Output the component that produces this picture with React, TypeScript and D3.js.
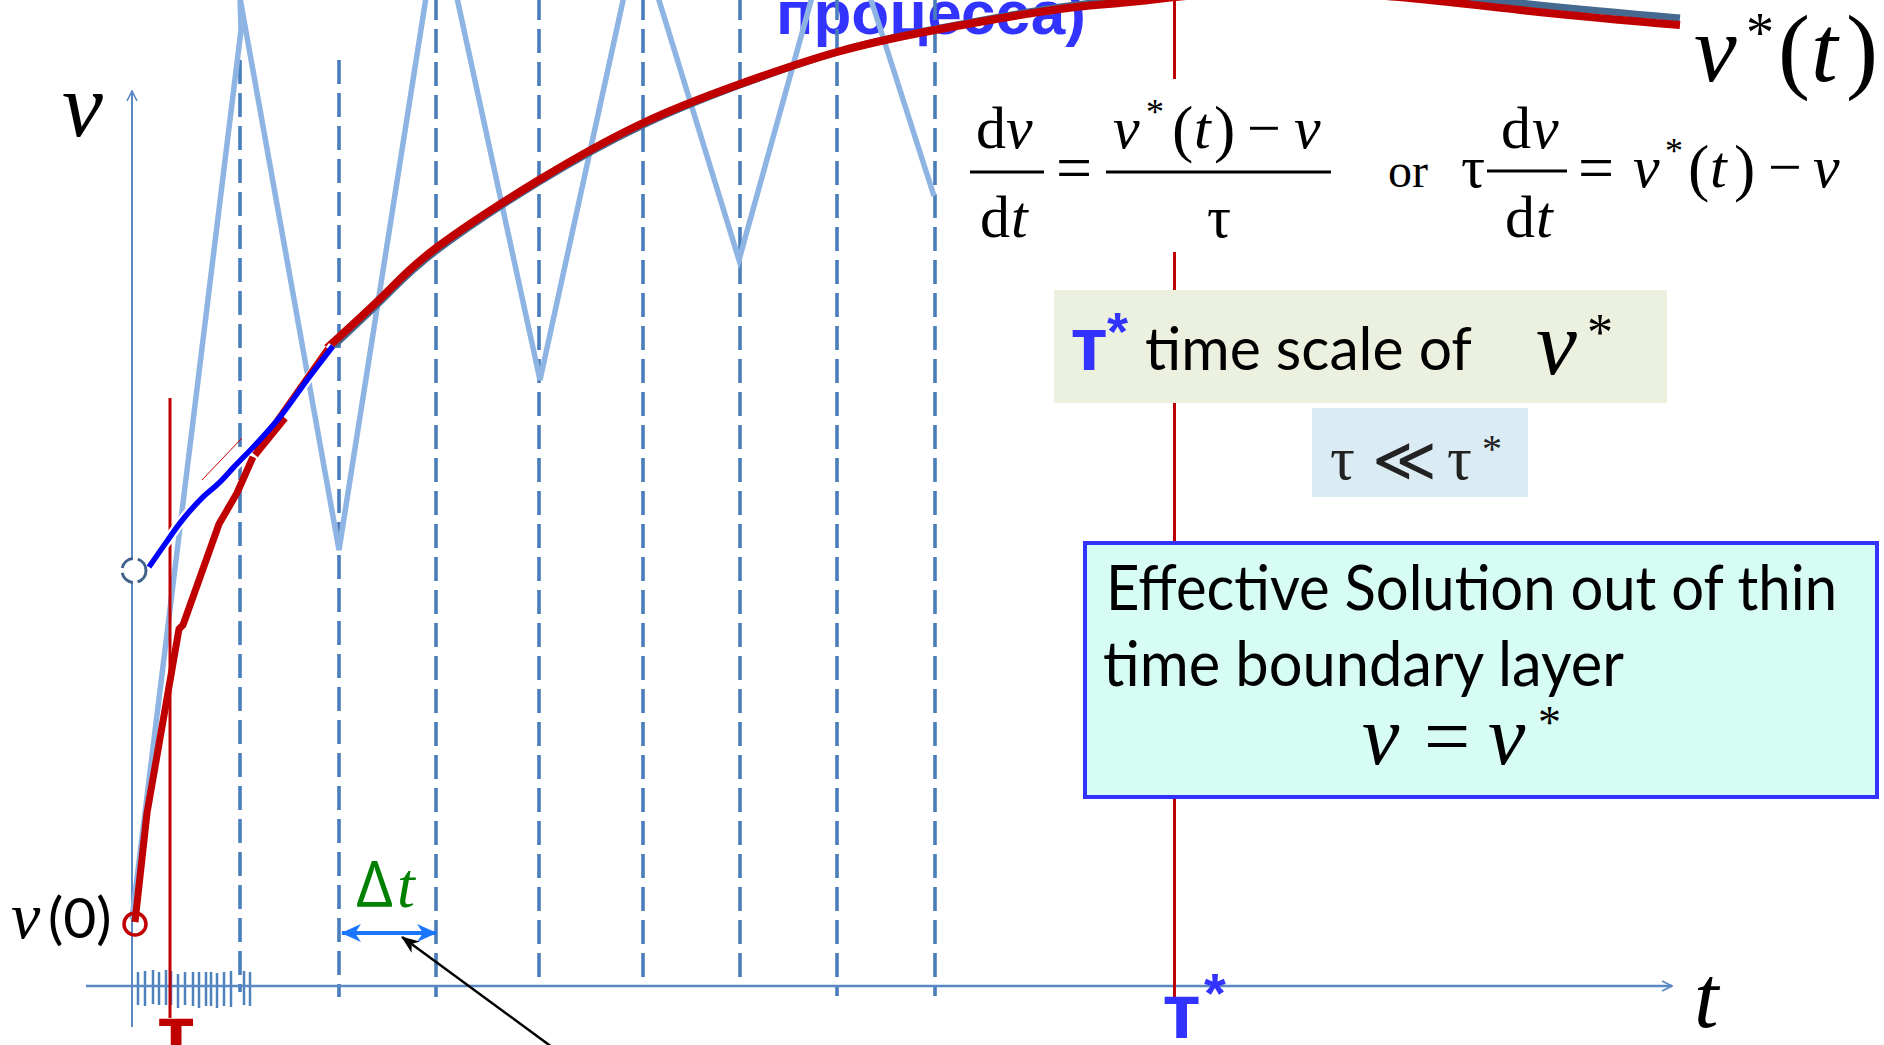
import React from "react";
import * as d3 from "d3";

const WIDTH = 1884;
const HEIGHT = 1045;

// Coarse time grid (steps of Δt), t units
const gridT = [10.8, 20.7, 30.4, 40.7, 51.1, 60.8, 70.5, 80.3];
const gridTop = [92.6, 92.6, 99, 99, 99, 99, 99, 99];
const gridBottom = [-0.6, -1.1, -1.1, 0.5, 0.5, 0.4, -1.0, -1.0];

// Fine time steps inside the boundary layer
const fineT = [0.6, 1.3, 2.1, 2.7, 3.4, 3.9, 4.6, 5.3, 6.1, 6.7, 7.4, 7.9, 8.5, 9.2, 9.9, 11.2, 11.8];
const fineTop = [1.4, 1.5, 1.6, 1.4, 1.6, 1.5, 1.2, 1.4, 1.4, 1.4, 1.4, 1.4, 1.3, 1.4, 1.5, 1.5, 1.4];
const fineBottom = [-1.9, -2.0, -1.8, -1.9, -1.9, -1.9, -2.2, -1.9, -2.0, -2.2, -2.0, -2.0, -2.2, -2.0, -2.1, -1.9, -2.0];

// Explicit scheme with a large step: oscillating iterates
const zigT = [0, 10.9, 10.8, 20.7, 30.7, 40.8, 50.6, 60.7, 70.7, 80.2];
const zigV = [6.7, 95.6, 98.8, 43.6, 107.1, 60.6, 105.4, 72.6, 108.6, 79.0];

// Slow manifold v*(t)
const slowT = [19.5, 25.3, 30.4, 40.7, 51.1, 60.8, 70.5, 80.3, 92.8, 100.8, 116.8, 138.8, 154.8];
const slowV = [63.8, 69.2, 73.8, 80.6, 86.3, 90.2, 93.4, 95.6, 97.7, 98.5, 99.5, 97.6, 96.1];
const exactV = [63.4, 68.9, 73.5, 80.4, 86.1, 90.1, 93.4, 95.7, 97.9, 98.8, 100.0, 98.3, 96.8];

// Fine-step solution through the layer
const layerAT = [0.3, 1.5, 3.8, 4.7, 5.1, 8.7, 10.5, 12.1];
const layerAV = [6.4, 17.3, 30.5, 35.7, 36.1, 46.2, 49.3, 52.9];
const layerCT = [12.3, 15.3];
const layerCV = [53.1, 56.8];
const linkT = [12.3, 19.5];
const linkV = [53.6, 63.8];
const hairT = [7.0, 11.0];
const hairV = [50.6, 54.8];

// Trajectory from a perturbed state
const driftT = [1.7, 3.3, 4.8, 7.1, 8.8, 10.1, 12.5, 14.8, 17.5, 20.1];
const driftV = [41.9, 44.2, 46.3, 48.9, 50.4, 51.8, 54.3, 56.9, 60.6, 64.0];

const v0 = 6.2;
const vPert = 41.55;
const tau = 3.8;
const tauStar = 104.25;

const RED = "#c00000";
const BLUE_TXT = "#3333ff";
const SERIF = "'Liberation Serif', 'DejaVu Serif', serif";
const SANS = "Lato, 'Open Sans', sans-serif";
const BOLD_SANS = "'Liberation Sans', Arial, sans-serif";

const zip = (a: number[], b: number[]): [number, number][] => a.map((t, i) => [t, b[i]]);

type Piece = { s: string; x: number; y: number; size?: number; it?: boolean; font?: string; fill?: string; anchor?: string; weight?: string };

function Pieces({ items }: { items: Piece[] }) {
  return (
    <g>
      {items.map((p, i) => (
        <text
          key={i}
          x={p.x}
          y={p.y}
          fontSize={p.size ?? 60}
          fontStyle={p.it ? "italic" : "normal"}
          fontFamily={p.font ?? SERIF}
          fill={p.fill ?? "#000"}
          textAnchor={(p.anchor as any) ?? "start"}
          fontWeight={p.weight ?? "normal"}
        >
          {p.s}
        </text>
      ))}
    </g>
  );
}

export default function App() {
  const x = d3.scaleLinear().domain([0, 154]).range([132, 1672]);
  const y = d3.scaleLinear().domain([0, 98.6]).range([986, 0]);
  const straight = d3.line<[number, number]>().x((d) => x(d[0])).y((d) => y(d[1]));
  const smooth = d3
    .line<[number, number]>()
    .x((d) => x(d[0]))
    .y((d) => y(d[1]))
    .curve(d3.curveMonotoneX);
  const natural = d3
    .line<[number, number]>()
    .x((d) => x(d[0]))
    .y((d) => y(d[1]))
    .curve(d3.curveNatural);

  const axisColor = "#5a88c4";

  return (
    <div style={{ position: "fixed", left: 0, top: 0, width: WIDTH, height: HEIGHT, overflow: "hidden", background: "#fff" }}>
      <svg width={WIDTH} height={HEIGHT} viewBox={`0 0 ${WIDTH} ${HEIGHT}`} style={{ display: "block" }}>
        <defs>
          <marker id="axisHead" viewBox="0 0 12 12" refX="11" refY="6" markerWidth="12" markerHeight="12" markerUnits="userSpaceOnUse" orient="auto">
            <path d="M1,1 L11,6 L1,11" fill="none" stroke={axisColor} strokeWidth="1.6" />
          </marker>
          <marker id="blueHead" viewBox="0 0 20 18" refX="19" refY="9" markerWidth="20" markerHeight="18" markerUnits="userSpaceOnUse" orient="auto-start-reverse">
            <path d="M0,0 L20,9 L0,18 L6,9 Z" fill="#1a75ff" />
          </marker>
          <marker id="blackHead" viewBox="0 0 18 14" refX="17" refY="7" markerWidth="18" markerHeight="14" markerUnits="userSpaceOnUse" orient="auto">
            <path d="M0,0 L18,7 L0,14 L5,7 Z" fill="#000" />
          </marker>
        </defs>

        <rect x={0} y={0} width={WIDTH} height={HEIGHT} fill="#fff" />

        {/* caption fragment at the top */}
        <text x={776} y={34} fontSize={62} fontWeight="bold" fontFamily={BOLD_SANS} fill={BLUE_TXT}>
          процесса)
        </text>

        {/* coarse grid of time steps */}
        {gridT.map((t, i) => (
          <line key={`g${i}`} x1={x(t)} x2={x(t)} y1={y(gridTop[i])} y2={y(gridBottom[i])} stroke="#4a7ebb" strokeWidth={3.6} strokeDasharray="24 9" />
        ))}

        {/* fine time steps */}
        {fineT.map((t, i) => (
          <line key={`f${i}`} x1={x(t)} x2={x(t)} y1={y(fineTop[i])} y2={y(fineBottom[i])} stroke="#4f81bd" strokeWidth={2.5} />
        ))}

        {/* axes */}
        <line x1={x(0)} x2={x(0)} y1={y(-4.1)} y2={y(89.5)} stroke={axisColor} strokeWidth={2} markerEnd="url(#axisHead)" />
        <line x1={x(-4.6)} x2={x(154)} y1={y(0)} y2={y(0)} stroke={axisColor} strokeWidth={2.5} markerEnd="url(#axisHead)" />

        {/* oscillating coarse-step iterates */}
        <path d={straight(zip(zigT, zigV)) ?? ""} fill="none" stroke="#8eb4e3" strokeWidth={5.5} strokeLinejoin="miter" />

        {/* τ marker line */}
        <line x1={x(tau)} x2={x(tau)} y1={y(58.8)} y2={y(-3.2)} stroke={RED} strokeWidth={3} />

        {/* τ* marker line */}
        <line x1={x(tauStar)} x2={x(tauStar)} y1={y(99)} y2={y(-1.4)} stroke={RED} strokeWidth={3} />

        {/* slow manifold v*(t) */}
        <path d={natural(zip(slowT, exactV)) ?? ""} fill="none" stroke="#46698f" strokeWidth={7} />
        <path d={natural(zip(slowT, slowV)) ?? ""} fill="none" stroke={RED} strokeWidth={8} />

        {/* halo under the perturbed trajectory */}
        <path d={smooth(zip(driftT, driftV)) ?? ""} fill="none" stroke="#fff" strokeWidth={10} />

        {/* fine-step solution through the boundary layer */}
        <path d={straight(zip(layerAT, layerAV)) ?? ""} fill="none" stroke={RED} strokeWidth={7} strokeLinejoin="round" />
        <path d={straight(zip(layerCT, layerCV)) ?? ""} fill="none" stroke={RED} strokeWidth={7} />
        <path d={straight(zip(linkT, linkV)) ?? ""} fill="none" stroke={RED} strokeWidth={4} />
        <path d={straight(zip(hairT, hairV)) ?? ""} fill="none" stroke={RED} strokeWidth={1} />

        {/* perturbed trajectory */}
        <path d={smooth(zip(driftT, driftV)) ?? ""} fill="none" stroke="#0000ff" strokeWidth={5.5} />

        {/* start points */}
        <circle cx={x(0.2)} cy={y(vPert)} r={12} fill="#fff" stroke="#3f6188" strokeWidth={3} strokeDasharray="15 5" />
        <circle cx={x(0.3)} cy={y(v0)} r={11} fill="none" stroke={RED} strokeWidth={3.5} />

        {/* axis labels */}
        <text x={62} y={136} fontSize={92} fontStyle="italic" fontFamily={SERIF}>v</text>
        <text x={1694} y={1027} fontSize={88} fontStyle="italic" fontFamily={SERIF}>t</text>

        {/* v(0) */}
        <text x={11} y={938} fontSize={66} fontStyle="italic" fontFamily={SERIF}>v</text>
        <text x={48} y={938} fontSize={57} fontFamily={SANS}>(0)</text>

        {/* Δt */}
        <text x={356} y={907} fontSize={64} fontFamily="'Open Sans', 'DejaVu Sans', sans-serif" fill="#008000">Δ</text>
        <text x={397} y={907} fontSize={64} fontStyle="italic" fontFamily={SERIF} fill="#008000">t</text>
        <line x1={x(gridT[1]) + 3} x2={x(gridT[2])} y1={y(5.3)} y2={y(5.3)} stroke="#1a75ff" strokeWidth={4} markerStart="url(#blueHead)" markerEnd="url(#blueHead)" />

        {/* pointer arrow */}
        <line x1={x(42.4)} y1={y(-6.4)} x2={x(27.0)} y2={y(4.9)} stroke="#000" strokeWidth={2.5} markerEnd="url(#blackHead)" />

        {/* τ and τ* labels on the time axis */}
        <text x={x(tau) + 6} y={1060} fontSize={78} fontWeight="bold" fontFamily={BOLD_SANS} fill={RED} textAnchor="middle">т</text>
        <text x={x(tauStar) + 7} y={1038} fontSize={78} fontWeight="bold" fontFamily={BOLD_SANS} fill={BLUE_TXT} textAnchor="middle">т</text>
        <text x={1204} y={1012} fontSize={56} fontWeight="bold" fontFamily={BOLD_SANS} fill={BLUE_TXT}>*</text>

        {/* v*(t) label */}
        <Pieces
          items={[
            { s: "v", x: 1694, y: 81, size: 96, it: true },
            { s: "*", x: 1746, y: 52, size: 56 },
            { s: "(", x: 1778, y: 81, size: 96 },
            { s: "t", x: 1811, y: 81, size: 96, it: true },
            { s: ")", x: 1846, y: 81, size: 96 },
          ]}
        />

        {/* relaxation equation */}
        <rect x={955} y={79} width={390} height={173} fill="#fff" />
        <Pieces
          items={[
            { s: "d", x: 976, y: 148 },
            { s: "v", x: 1006, y: 148, it: true },
            { s: "d", x: 980, y: 237 },
            { s: "t", x: 1011, y: 237, it: true },
            { s: "=", x: 1056, y: 189, size: 64 },
            { s: "v", x: 1113, y: 148, it: true },
            { s: "*", x: 1146, y: 124, size: 36 },
            { s: "(", x: 1172, y: 150, size: 64 },
            { s: "t", x: 1194, y: 148, it: true },
            { s: ")", x: 1214, y: 150, size: 64 },
            { s: "−", x: 1247, y: 148 },
            { s: "v", x: 1294, y: 148, it: true },
            { s: "τ", x: 1207, y: 237 },
            { s: "or", x: 1388, y: 187, size: 48 },
            { s: "τ", x: 1461, y: 187 },
            { s: "d", x: 1501, y: 148 },
            { s: "v", x: 1532, y: 148, it: true },
            { s: "d", x: 1505, y: 237 },
            { s: "t", x: 1536, y: 237, it: true },
            { s: "=", x: 1578, y: 189, size: 64 },
            { s: "v", x: 1633, y: 187, it: true },
            { s: "*", x: 1665, y: 163, size: 36 },
            { s: "(", x: 1688, y: 189, size: 64 },
            { s: "t", x: 1710, y: 187, it: true },
            { s: ")", x: 1734, y: 189, size: 64 },
            { s: "−", x: 1768, y: 187 },
            { s: "v", x: 1813, y: 187, it: true },
          ]}
        />
        <line x1={970} x2={1044} y1={172} y2={172} stroke="#000" strokeWidth={3} />
        <line x1={1106} x2={1331} y1={172} y2={172} stroke="#000" strokeWidth={3} />
        <line x1={1487} x2={1567} y1={171} y2={171} stroke="#000" strokeWidth={3} />

        {/* τ* note */}
        <rect x={1054} y={290} width={613} height={113} fill="#ebf1de" />
        <text x={1089} y={370} fontSize={76} fontWeight="bold" fontFamily={BOLD_SANS} fill={BLUE_TXT} textAnchor="middle">т</text>
        <text x={1107} y={350} fontSize={54} fontWeight="bold" fontFamily={BOLD_SANS} fill={BLUE_TXT}>*</text>
        <text x={1145} y={370} fontSize={60} fontFamily={SANS} textLength={327} lengthAdjust="spacingAndGlyphs">time scale of</text>
        <text x={1536} y={374} fontSize={92} fontStyle="italic" fontFamily={SERIF}>v</text>
        <text x={1587} y={350} fontSize={52} fontFamily={SERIF}>*</text>

        {/* τ ≪ τ* */}
        <rect x={1312} y={408} width={216} height={89} fill="#dbebf3" />
        <Pieces
          items={[
            { s: "τ", x: 1330, y: 479, size: 62, fill: "#222" },
            { s: "≪", x: 1372, y: 481, size: 62, fill: "#222", font: "'DejaVu Sans', sans-serif" },
            { s: "τ", x: 1447, y: 479, size: 62, fill: "#222" },
            { s: "*", x: 1482, y: 462, size: 40, fill: "#222" },
          ]}
        />

        {/* effective solution note */}
        <rect x={1085} y={543} width={792} height={254} fill="#d6fcf4" stroke="#3333ff" strokeWidth={4} />
        <text x={1106} y={610} fontSize={62} fontFamily={SANS} textLength={731} lengthAdjust="spacingAndGlyphs">Effective Solution out of thin</text>
        <text x={1103} y={686} fontSize={62} fontFamily={SANS} textLength={521} lengthAdjust="spacingAndGlyphs">time boundary layer</text>
        <Pieces
          items={[
            { s: "v", x: 1362, y: 764, size: 84, it: true },
            { s: "=", x: 1424, y: 764, size: 82 },
            { s: "v", x: 1488, y: 764, size: 84, it: true },
            { s: "*", x: 1538, y: 738, size: 46 },
          ]}
        />
      </svg>
    </div>
  );
}
